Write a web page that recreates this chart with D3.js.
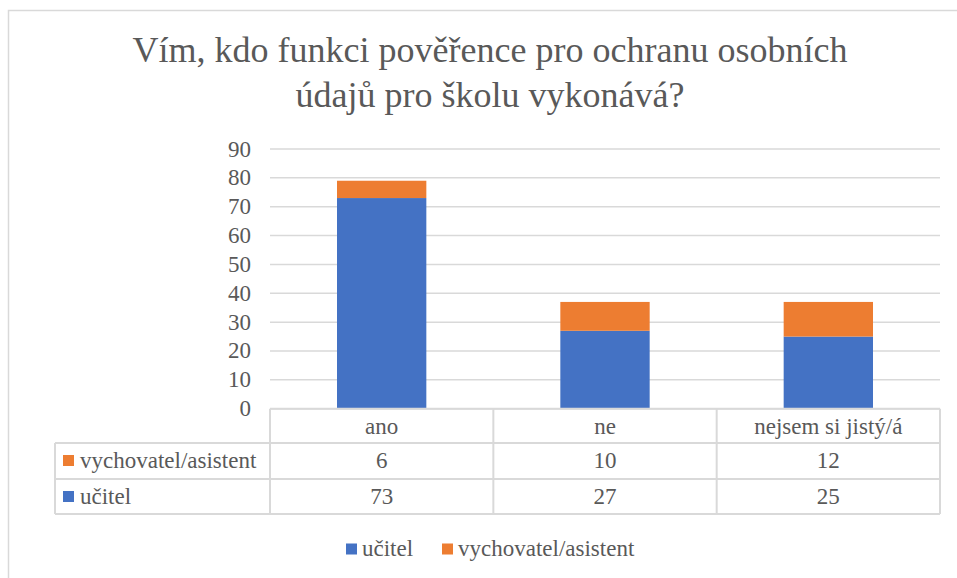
<!DOCTYPE html>
<html>
<head>
<meta charset="utf-8">
<script src="https://cdn.jsdelivr.net/npm/d3@7"></script>
</head>
<body style="margin:0">
<div id="chart"></div>
<script>
const titleLines = ["Vím, kdo funkci pověřence pro ochranu osobních", "údajů pro školu vykonává?"];
const categories = ["ano", "ne", "nejsem si jistý/á"];
const ucitel = [73, 27, 25];
const vychovatel = [6, 10, 12];
const yTicks = [0, 10, 20, 30, 40, 50, 60, 70, 80, 90];

const series = [
  { name: "učitel", values: ucitel, color: "#4472C4" },
  { name: "vychovatel/asistent", values: vychovatel, color: "#ED7D31" },
];

const width = 957;
const height = 578;
const plot = { left: 270, right: 940, top: 149, bottom: 408.7 };
const grid = "#d9d9d9";

const svg = d3
  .select("#chart")
  .append("svg")
  .attr("width", width)
  .attr("height", height);

// chart frame (runs off the right and bottom edge)
svg
  .append("rect")
  .attr("x", 8.5)
  .attr("y", 10.5)
  .attr("width", 970)
  .attr("height", 590)
  .attr("fill", "none")
  .attr("stroke", grid)
  .attr("stroke-width", 1.5);

// aligned by measuring instead of text-anchor
function label(sel, x, y, text, size, anchor) {
  const t = sel
    .append("text")
    .attr("x", x)
    .attr("y", y)
    .attr("font-family", "Liberation Serif")
    .attr("font-size", size)
    .attr("fill", "#595959")
    .text(text);
  const w = t.node().getComputedTextLength();
  if (anchor === "end") t.attr("x", x - w);
  else if (anchor !== "start") t.attr("x", x - w / 2);
  return t;
}

titleLines.forEach((t, i) => label(svg, 490, 62 + i * 45, t, 36));

const x = d3
  .scaleBand()
  .domain(categories)
  .range([plot.left, plot.right])
  .paddingInner(0.6)
  .paddingOuter(0.3);

const y = d3.scaleLinear().domain([0, 90]).range([plot.bottom, plot.top]);

// gridlines
svg
  .append("g")
  .selectAll("line")
  .data(yTicks)
  .join("line")
  .attr("x1", plot.left)
  .attr("x2", plot.right)
  .attr("y1", (d) => y(d))
  .attr("y2", (d) => y(d))
  .attr("stroke", grid)
  .attr("stroke-width", 1.5);

// y tick labels
const yAxis = svg.append("g");
yTicks.forEach((d) => label(yAxis, 251, y(d) + 7.5, d, 23, "end"));

// stacked bars
const stack = d3
  .stack()
  .keys(series.map((s, i) => i))
  .value((d, k) => series[k].values[d]);
const stacked = stack(categories.map((c, i) => i));

svg
  .append("g")
  .selectAll("g")
  .data(stacked)
  .join("g")
  .attr("fill", (d) => series[d.key].color)
  .selectAll("rect")
  .data((d) => d)
  .join("rect")
  .attr("x", (d) => x(categories[d.data]))
  .attr("width", x.bandwidth())
  .attr("y", (d) => y(d[1]))
  .attr("height", (d) => y(d[0]) - y(d[1]));

// data table under the axis
const rows = [408.7, 443, 479, 514];
const tableLeft = 55;
const colEdges = [plot.left].concat(categories.map((c) => x(c) + x.bandwidth() / 2 + x.step() / 2));
const table = svg.append("g").attr("stroke", grid).attr("stroke-width", 2);

table
  .append("line")
  .attr("x1", plot.left)
  .attr("x2", plot.right)
  .attr("y1", rows[0])
  .attr("y2", rows[0]);
rows.slice(1).forEach((r) =>
  table
    .append("line")
    .attr("x1", tableLeft)
    .attr("x2", plot.right)
    .attr("y1", r)
    .attr("y2", r)
);
colEdges.forEach((cx) =>
  table
    .append("line")
    .attr("x1", cx)
    .attr("x2", cx)
    .attr("y1", rows[0])
    .attr("y2", rows[3])
);
table
  .append("line")
  .attr("x1", tableLeft)
  .attr("x2", tableLeft)
  .attr("y1", rows[1])
  .attr("y2", rows[3]);

const cells = svg.append("g");
categories.forEach((c) => label(cells, x(c) + x.bandwidth() / 2, rows[0] + 25, c, 23));

// table rows: top series first
const tableSeries = series.slice().reverse();
tableSeries.forEach((s, r) => {
  const top = rows[r + 1];
  cells
    .append("rect")
    .attr("x", 63)
    .attr("y", top + 12)
    .attr("width", 11)
    .attr("height", 11)
    .attr("fill", s.color);
  label(cells, 80, top + 25, s.name, 23, "start");
  s.values.forEach((v, i) =>
    label(cells, x(categories[i]) + x.bandwidth() / 2, top + 25, v, 23)
  );
});

// legend
const legend = svg.append("g");
const legendX = [346, 442];
series.forEach((s, i) => {
  legend
    .append("rect")
    .attr("x", legendX[i])
    .attr("y", 543.5)
    .attr("width", 11)
    .attr("height", 11)
    .attr("fill", s.color);
  label(legend, legendX[i] + 16, 556, s.name, 23, "start");
});
</script>
</body>
</html>
